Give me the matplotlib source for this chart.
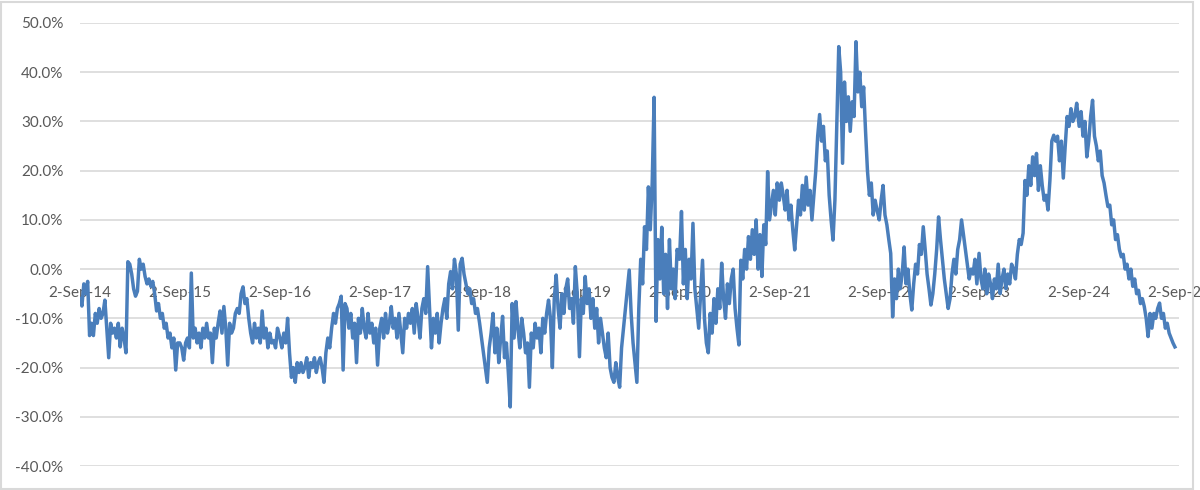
import pandas as pd
import numpy as np
import matplotlib
matplotlib.use("Agg")
import matplotlib.pyplot as plt
import matplotlib.dates as mdates
from matplotlib.ticker import FuncFormatter, MultipleLocator
from matplotlib.patches import Rectangle

# weekly readings (%), one list per year starting 2 Sep
y14 = [-6, -7.5, -3, -5, -2.5, -13.5, -11, -13.5, -9, -11, -8, -10, -9, -6.3, -12, -18, -11, -13, -12, -14,
       -11, -15.8, -12, -14, -17, 1.5, 1, -1, -4, -5.5, -4.5, 2, 0, 1, -1.5, -3, -2, -3.5, -2.5, -5,
       -8.5, -7, -10, -9, -12, -11, -14, -13, -16, -14, -20.5, -15]
y15 = [-15, -16, -18.5, -15, -14, -16, -0.8, -14, -12, -15, -13, -16, -12, -14, -11, -14, -13, -19, -12, -14,
       -11, -8.5, -13, -7.6, -12, -19.5, -11, -13, -12, -9, -8, -9, -5, -3.6, -7, -6, -10, -13, -15, -11,
       -14, -12, -15, -8.5, -14, -12, -16, -13, -15, -14.5, -16, -12]
y16 = [-14, -16, -13, -15, -10, -17, -22, -20, -23, -19, -21, -19, -21, -20, -18, -22, -19, -20, -18, -21,
       -19, -18, -20, -23, -17, -14, -16, -12, -9, -11, -8, -7, -5.5, -20.5, -7, -8, -12, -9, -14, -11,
       -19, -10, -13, -8, -12, -14, -9, -13, -11, -15, -12, -19.5]
y17 = [-12, -10, -14, -9, -13, -11, -7.6, -12, -10, -14, -9, -13, -17, -10, -12, -9, -11, -8, -13, -7,
       -10, -14, -8, -6, -9, 0.5, -8, -16, -10, -13, -9, -15, -11, -8, -6, -10, -3, -0.5, -4, 2,
       -1, -12.4, 1, 2.2, -1, -3, -5, -4, -7, -6, -9, -8]
y18 = [-11, -14, -17, -20, -23, -16, -13, -9, -17, -12, -19, -14, -9.6, -18, -15, -21, -28, -7, -14, -6.6,
       -12, -16, -10, -13, -17, -15, -24, -13, -16, -11, -14, -12, -17, -10, -13, -9, -6.3, -10, -20, -6,
       -1.2, -8, -12, -5, -9, -4, -2, -8, -6, -11, 0.5, -5]
y19 = [-17.8, -6, -9, -1.5, -7, -4, -10, -6, -12, -8, -15, -10, -13, -16, -18, -13, -20, -22, -23, -19,
       -22, -24, -16, -12, -8, -4, -0.2, -9, -15, -19, -23, -8, 2, -3, 8.6, 4, 16.7, 8, 17.5, 34.9,
       -10.6, 6, -2, 8.5, -5, 3, -8, 6, -4, 0, -6, 4]
y20 = [2, 11.7, -3, 4, -6, 2, -2, 9.3, -4, -8, -12, -5, 1.8, -10, -15, -17, -9, -13, -6, -11,
       -4, -8, 1.2, -6, -10, -3, -7, -2, 0, -8, -12, -15.4, 1.8, -2, 4, 0, 6.6, 2, 8, 3,
       10, 0, 7, -1.5, 9, 5, 19.8, 10, 13, 16, 11, 17.5]
y21 = [14, 17.5, 15, 12, 16, 10, 13, 8, 3.9, 9, 14, 11, 17, 12, 18.7, 13, 16, 10, 15, 20,
       27, 31.4, 26, 29, 22, 24, 15, 10, 5.9, 14, 30, 45.2, 40, 21.5, 38, 30, 35, 28, 34, 31,
       46.2, 36, 40, 33, 37, 28, 20, 15, 17.5, 11, 14, 12]
y22 = [10, 14, 17, 11, 9, 6, 3.2, -9.7, -2, -6, 0, -4, -1, 4.5, -3, 0, -5, -8.3, -3, 1,
       -1, 5, 3, 8.6, 4, -1, -4, -7.3, -5, -1, 4, 10.6, 6, 2, -2, -5, -8, -6, -1, 2,
       -1, 4, 6, 10, 7, 4, 1, -2, 0, -1, 2, -3]
y23 = [3.2, -2, -4, 0, -5, -1, -3, -6, -2, -4, 1, -5, -2, 0, -4, -1, -3, 1, 0, -2,
       3, 6, 5, 7.3, 18, 15, 21, 17, 22.8, 19, 23.5, 16, 21, 17, 14, 15, 12, 18, 26, 27.2,
       26, 27, 22, 26, 18.5, 25, 31, 29, 32.6, 30, 31, 33.7]
y24 = [29, 32, 27, 30, 22.8, 26, 31, 34.3, 27, 25, 22, 24, 19, 17.5, 15, 12.7, 13, 9, 10, 6,
       7, 4, 2.5, 3, 0, 1, -2, 0, -3.5, -2, -5, -4.3, -7, -6, -7.6, -10, -13.7, -9, -12, -9,
       -10, -8, -6.9, -10, -9, -12, -11, -13, -14, -15, -15.8]

years = [y14, y15, y16, y17, y18, y19, y20, y21, y22, y23, y24]

dates = []
values = []
for k, vals in enumerate(years):
    dates.extend(pd.date_range(f"{2014 + k}-09-02", periods=len(vals), freq="7D"))
    values.extend(vals)
s = pd.Series(np.array(values) / 100.0, index=pd.DatetimeIndex(dates))

plt.rcParams['font.family'] = ['Lato', 'DejaVu Sans']
plt.rcParams['axes.unicode_minus'] = False

fig = plt.figure(figsize=(12, 4.9), dpi=100)
ax = fig.add_axes([80 / 1200, 24 / 490, 1099 / 1200, 443 / 490])

ax.plot(s.index, s.values, color='#4a7ebb', lw=2.5, solid_joinstyle='round')

ax.set_ylim(-0.4, 0.5)
ax.yaxis.set_major_locator(MultipleLocator(0.1))
ax.yaxis.set_major_formatter(FuncFormatter(lambda v, p: f"{v * 100:.1f}%"))
ax.set_xlim(pd.Timestamp("2014-09-02"), pd.Timestamp("2025-09-02"))
ax.xaxis.set_major_locator(mdates.YearLocator(base=1, month=9, day=2))
ax.xaxis.set_major_formatter(FuncFormatter(
    lambda v, p: (lambda d: f"{d.day}-{d:%b-%y}")(mdates.num2date(v))))

for sp in ax.spines.values():
    sp.set_visible(False)
ax.spines['bottom'].set_position(('data', 0))
ax.grid(axis='y', color='#d9d9d9', lw=1.2)
ax.tick_params(axis='both', length=0, labelsize=11, labelcolor='#595959')
ax.tick_params(axis='y', pad=12)
ax.tick_params(axis='x', pad=12)

fig.patches.append(Rectangle((1 / 1200, 1 / 490), 1192 / 1200, 487 / 490, transform=fig.transFigure,
                             fill=False, edgecolor='#d9d9d9', lw=1.5))

fig.savefig("out.png", dpi=100, facecolor='white')
